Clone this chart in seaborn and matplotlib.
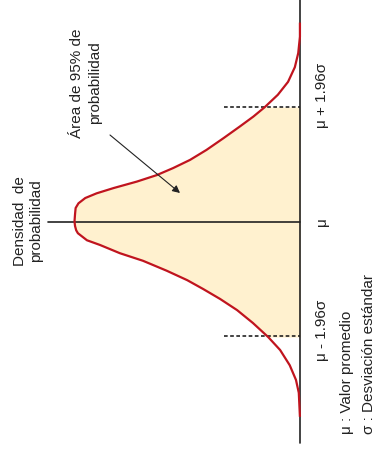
import numpy as np
import matplotlib
matplotlib.use("Agg")
import matplotlib.pyplot as plt
import seaborn as sns
import pandas as pd

# ---- chart content --------------------------------------------------------
# position along the variable axis, in sigma units from the mean (top = +)
curve_z = [3.39, 3.15, 2.87, 2.63, 2.38, 2.16, 1.95, 1.79, 1.62, 1.42,
           1.22, 1.05, 0.91, 0.79, 0.68, 0.57, 0.48, 0.40, 0.31, 0.23,
           0.13, 0.00, -0.08, -0.15, -0.20, -0.32, -0.40, -0.54, -0.67,
           -0.84, -1.00, -1.15, -1.32, -1.51, -1.73, -1.97, -2.19, -2.45,
           -2.70, -2.92, -3.33]
# probability density at each position
curve_density = [0.001, 0.001, 0.004, 0.010, 0.022, 0.040, 0.063, 0.083,
                 0.107, 0.136, 0.166, 0.195, 0.225, 0.254, 0.289, 0.330,
                 0.360, 0.380, 0.392, 0.397, 0.398, 0.399, 0.398, 0.396,
                 0.393, 0.377, 0.354, 0.319, 0.278, 0.236, 0.200, 0.172,
                 0.142, 0.112, 0.084, 0.057, 0.036, 0.019, 0.008, 0.003,
                 0.001]
Z_95 = 1.96
tick_labels = ["μ - 1.96σ", "μ", "μ + 1.96σ"]
tick_z = [-Z_95, 0.0, Z_95]
area_label = "Área de 95% de\nprobabilidad"
density_label = "Densidad  de\nprobabilidad"
legend_lines = ["μ : Valor promedio", "σ : Desviación estándar"]

df = pd.DataFrame({"z": curve_z, "density": curve_density})

# ---- styling ---------------------------------------------------------------
sns.set_theme(style="white")
plt.rcParams["font.family"] = ["Liberation Sans", "DejaVu Sans"]
RED = "#C0141E"
FILL = "#FFF1CF"
INK = "#222222"
W, H = 379, 453

fig = plt.figure(figsize=(W / 100, H / 100), dpi=100)
ax = fig.add_axes([0, 0, 1, 1])

# pixel geometry of the layout
AX_X = 300.5            # vertical baseline (pixel x)
PEAK_X = 74.5           # peak of curve (pixel x)
CEN_Y = 221.5           # mean (pixel y)
SIG_PX = 58.67          # one sigma in pixels
scale_d = (AX_X - PEAK_X) / max(curve_density)

def px_d(x):
    return (AX_X - x) / scale_d

def py_z(y):
    return (CEN_Y - y) / SIG_PX

ax.set_xlim(px_d(0), px_d(W))
ax.set_ylim(py_z(H), py_z(0))
ax.axis("off")

# filled 95 % area
m = df["z"].abs() <= Z_95 + 0.02
ax.fill_betweenx(df["z"][m], 0, df["density"][m], color=FILL, lw=0, zorder=1)

# baseline (vertical) and density axis (horizontal)
ax.plot([0, 0], [py_z(0), py_z(443)], color=INK, lw=1.2, zorder=3)
ax.plot([px_d(48), 0], [0, 0], color=INK, lw=1.2, zorder=3)

# dashed bounds
for zz in (-Z_95, Z_95):
    ax.plot([px_d(224), 0], [zz, zz], color=INK, lw=1.2,
            ls=(0, (2.2, 1.5)), zorder=3)

# curve
sns.lineplot(data=df, x="density", y="z", sort=False, orient="y",
             color=RED, lw=1.6, ax=ax, zorder=4,
             solid_joinstyle="round", solid_capstyle="butt")

# tick labels on the right side of baseline
FS = 11
offs = [6, 0, 11]
for lab, zz, o in zip(tick_labels, tick_z, offs):
    ax.text(px_d(322), zz + o / SIG_PX, lab, rotation=90, ha="center",
            va="center", fontsize=FS, color=INK)

# legend text
ax.text(px_d(347), py_z(434), legend_lines[0], rotation=90, ha="center",
        va="bottom", fontsize=FS, color=INK)
ax.text(px_d(369.5), py_z(434), legend_lines[1], rotation=90, ha="center",
        va="bottom", fontsize=FS, color=INK)

# density label
ax.text(px_d(28), py_z(221), density_label, rotation=90, ha="center",
        va="center", multialignment="center", fontsize=FS, color=INK)

# area label with arrow
ax.text(px_d(86), py_z(83), area_label, rotation=90, ha="center",
        va="center", multialignment="center", fontsize=FS, color=INK,
        linespacing=1.35)
ax.annotate("", xy=(px_d(180), py_z(193)), xytext=(px_d(110), py_z(135)),
            arrowprops=dict(arrowstyle="-|>", color=INK, lw=0.8,
                            mutation_scale=11, shrinkA=0, shrinkB=0),
            zorder=5)

fig.savefig("out.png", dpi=100)
